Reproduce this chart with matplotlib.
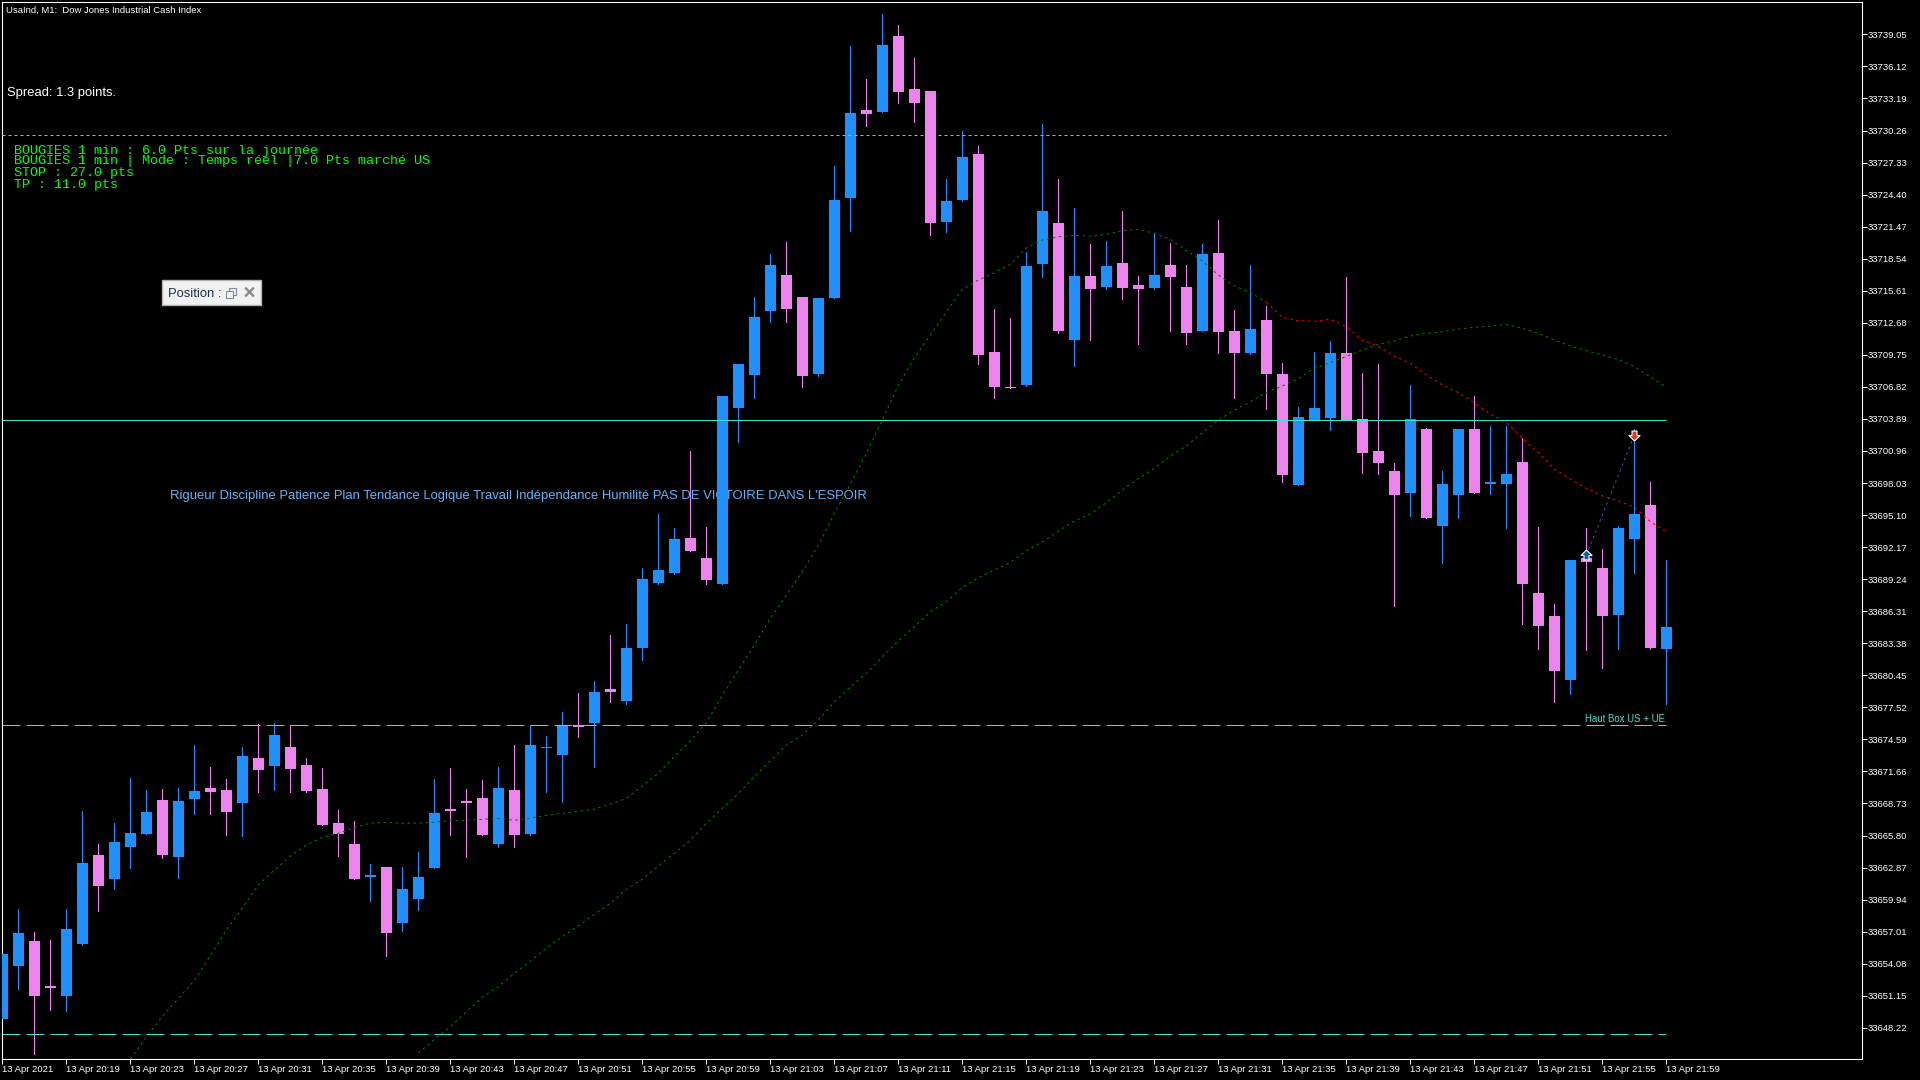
import numpy as np
import matplotlib
matplotlib.use("Agg")
import matplotlib.pyplot as plt
from matplotlib.patches import Rectangle
from matplotlib.lines import Line2D

# candles, one per minute from 20:15
opens = [33649.00, 33653.85, 33656.14, 33652.02, 33651.11, 33655.86, 33664.01, 33661.81, 33664.74, 33665.93,
         33669.04, 33663.82, 33669.13, 33670.14, 33669.95, 33668.77, 33672.88, 33672.15, 33673.89, 33672.24,
         33670.05, 33666.94, 33665.01, 33661.99, 33662.91, 33657.79, 33659.98, 33662.82, 33668.22, 33668.95,
         33669.22, 33665.01, 33669.95, 33665.93, 33673.80, 33673.16, 33675.90, 33676.08, 33679.19, 33678.10,
         33682.94, 33688.89, 33689.80, 33693.00, 33691.17, 33688.80, 33704.89, 33707.90, 33713.75, 33717.04,
         33715.03, 33707.99, 33714.94, 33724.08, 33732.13, 33731.95, 33738.90, 33734.05, 33733.87, 33721.89,
         33723.90, 33728.11, 33710.00, 33706.80, 33706.99, 33718.05, 33721.80, 33711.10, 33716.95, 33715.95,
         33718.14, 33716.13, 33715.86, 33717.96, 33715.95, 33711.92, 33719.06, 33711.92, 33709.92, 33712.93,
         33708.00, 33697.85, 33703.79, 33703.97, 33709.92, 33703.88, 33700.95, 33699.13, 33697.11, 33702.97,
         33694.10, 33696.93, 33702.97, 33697.94, 33697.94, 33699.95, 33687.97, 33685.87, 33680.02, 33691.17,
         33690.26, 33685.96, 33692.91, 33696.02, 33682.85]
highs = [33654.95, 33659.07, 33656.96, 33656.23, 33659.07, 33668.03, 33665.01, 33666.94, 33671.05, 33669.95,
         33670.05, 33670.14, 33674.07, 33672.06, 33670.96, 33673.89, 33675.99, 33676.09, 33675.90, 33672.88,
         33671.97, 33668.12, 33667.12, 33663.18, 33662.91, 33662.91, 33664.28, 33670.96, 33671.97, 33670.05,
         33670.87, 33672.06, 33674.07, 33675.90, 33674.90, 33677.09, 33678.83, 33679.93, 33684.13, 33685.14,
         33690.26, 33695.20, 33693.92, 33700.96, 33694.01, 33705.98, 33708.90, 33715.03, 33718.96, 33720.06,
         33715.03, 33714.94, 33727.01, 33737.98, 33734.97, 33740.91, 33739.90, 33736.89, 33733.87, 33725.82,
         33730.21, 33728.84, 33713.94, 33713.11, 33719.15, 33730.85, 33725.82, 33723.17, 33719.88, 33720.15,
         33722.90, 33716.95, 33720.88, 33719.97, 33717.96, 33719.88, 33722.07, 33713.84, 33717.96, 33714.21,
         33709.00, 33704.98, 33710.01, 33711.01, 33716.87, 33708.09, 33708.91, 33699.86, 33706.99, 33703.06,
         33699.13, 33702.97, 33705.98, 33703.24, 33703.24, 33702.14, 33694.01, 33686.97, 33690.99, 33693.91,
         33691.99, 33694.10, 33702.97, 33698.12, 33690.99]
lows = [33649.00, 33651.75, 33645.83, 33649.82, 33649.73, 33655.77, 33658.88, 33660.90, 33662.82, 33665.93,
        33663.73, 33661.90, 33667.76, 33667.76, 33665.84, 33665.75, 33669.77, 33669.95, 33669.77, 33669.77,
        33666.75, 33663.92, 33661.81, 33659.80, 33654.77, 33657.05, 33658.97, 33662.82, 33665.84, 33663.82,
        33665.84, 33664.74, 33664.74, 33665.84, 33669.77, 33668.86, 33674.80, 33672.06, 33678.01, 33677.82,
        33681.85, 33688.80, 33689.71, 33691.81, 33688.80, 33688.80, 33701.78, 33705.80, 33712.75, 33712.75,
        33706.80, 33707.81, 33714.94, 33721.07, 33730.67, 33731.95, 33732.77, 33731.03, 33720.70, 33720.98,
        33723.81, 33708.91, 33705.80, 33706.71, 33706.89, 33716.86, 33711.74, 33708.72, 33711.10, 33715.76,
        33714.85, 33710.74, 33715.76, 33711.92, 33710.74, 33711.92, 33709.91, 33705.80, 33709.82, 33704.80,
        33698.12, 33697.85, 33703.79, 33702.88, 33703.79, 33698.94, 33698.85, 33686.78, 33695.01, 33694.83,
        33690.71, 33694.83, 33697.11, 33697.02, 33693.91, 33685.14, 33682.85, 33678.00, 33678.73, 33682.76,
        33681.11, 33682.85, 33689.80, 33682.85, 33677.82]
closes = [33654.95, 33656.87, 33651.11, 33651.84, 33657.24, 33663.28, 33661.17, 33665.20, 33666.02, 33667.94,
          33664.01, 33668.95, 33669.86, 33669.77, 33667.94, 33673.07, 33671.78, 33674.99, 33671.88, 33669.86,
          33666.75, 33665.93, 33661.81, 33662.18, 33656.87, 33660.90, 33661.99, 33667.85, 33668.03, 33668.77,
          33665.84, 33670.14, 33665.84, 33674.07, 33673.89, 33675.90, 33675.72, 33678.92, 33678.92, 33682.94,
          33689.25, 33690.08, 33692.91, 33691.81, 33689.16, 33705.98, 33708.90, 33713.20, 33717.96, 33713.94,
          33707.81, 33714.94, 33723.90, 33731.86, 33731.77, 33738.08, 33733.78, 33732.77, 33721.80, 33723.81,
          33727.83, 33709.73, 33706.80, 33706.71, 33717.87, 33722.90, 33711.92, 33716.95, 33715.76, 33717.87,
          33715.86, 33715.76, 33717.04, 33716.86, 33711.74, 33718.96, 33711.83, 33709.91, 33712.11, 33708.00,
          33698.76, 33704.06, 33704.89, 33709.92, 33703.79, 33700.77, 33699.86, 33696.93, 33703.88, 33694.83,
          33697.94, 33702.97, 33697.11, 33698.12, 33698.85, 33688.79, 33684.95, 33680.84, 33690.99, 33690.81,
          33685.87, 33693.91, 33695.19, 33682.94, 33684.86]

# moving averages, first bar given by the *_start values
fast_start = 8
fast_split = 79  # green up to this bar, red after
fast_ma = [33645.37, 33647.38, 33649.27, 33650.92, 33652.56, 33654.81, 33657.16, 33659.20, 33661.27, 33662.65,
           33663.93, 33664.93, 33665.64, 33666.00, 33666.51, 33666.94, 33667.01, 33666.92, 33666.94, 33667.01,
           33667.15, 33667.19, 33667.28, 33667.37, 33667.19, 33667.40, 33667.65, 33667.83, 33668.01, 33668.22,
           33668.68, 33669.20, 33670.33, 33671.49, 33673.01, 33674.47, 33676.11, 33678.65, 33680.93, 33683.22,
           33685.66, 33687.79, 33689.92, 33692.36, 33695.26, 33697.94, 33700.75, 33703.79, 33706.99, 33709.46,
           33711.56, 33713.69, 33715.74, 33716.59, 33717.26, 33718.03, 33719.54, 33720.25, 33720.55, 33720.68,
           33720.61, 33720.77, 33721.10, 33721.23, 33720.86, 33720.31, 33719.27, 33718.33, 33717.05, 33716.04,
           33715.47, 33714.55, 33713.18, 33712.87, 33712.81, 33713.00, 33712.32, 33711.10, 33710.49, 33709.64,
           33708.97, 33707.90, 33706.99, 33706.29, 33705.37, 33704.34, 33703.58, 33702.12, 33700.80, 33699.31,
           33698.40, 33697.54, 33696.84, 33696.41, 33695.81, 33694.49, 33693.58]
slow_start = 26
slow_ma = [33645.91, 33647.17, 33648.32, 33649.69, 33651.01, 33651.98, 33653.20, 33654.33, 33655.49, 33656.55,
           33657.53, 33658.60, 33659.60, 33660.88, 33661.80, 33663.04, 33664.17, 33665.39, 33666.92, 33668.29,
           33669.66, 33671.18, 33672.64, 33674.07, 33674.99, 33676.36, 33678.03, 33679.40, 33680.63, 33682.15,
           33683.61, 33684.89, 33686.26, 33687.18, 33688.49, 33689.37, 33690.07, 33690.78, 33691.84, 33692.66,
           33693.64, 33694.55, 33695.20, 33696.23, 33697.39, 33698.46, 33699.37, 33700.50, 33701.41, 33702.63,
           33703.79, 33704.70, 33705.46, 33706.30, 33706.90, 33707.58, 33708.52, 33709.03, 33709.61, 33710.19,
           33710.71, 33711.01, 33711.47, 33711.72, 33711.86, 33712.11, 33712.27, 33712.38, 33712.54, 33712.17,
           33711.72, 33711.10, 33710.56, 33710.13, 33709.73, 33709.34, 33708.66, 33707.75, 33706.78]

# horizontal levels
level_dotted = 33729.85
level_solid = 33703.76
level_box_high = 33675.87
level_box_low = 33647.62

# trade arrows
trade_bars = [99, 102]
trade_prices = [33691.45, 33702.42]

price_ticks = [33739.05, 33736.12, 33733.19, 33730.26, 33727.33, 33724.40, 33721.47, 33718.54,
               33715.61, 33712.68, 33709.75, 33706.82, 33703.89, 33700.96, 33698.03, 33695.10,
               33692.17, 33689.24, 33686.31, 33683.38, 33680.45, 33677.52, 33674.59, 33671.66,
               33668.73, 33665.80, 33662.87, 33659.94, 33657.01, 33654.08, 33651.15, 33648.22]
time_labels = ["13 Apr 2021", "13 Apr 20:19", "13 Apr 20:23", "13 Apr 20:27", "13 Apr 20:31", "13 Apr 20:35",
               "13 Apr 20:39", "13 Apr 20:43", "13 Apr 20:47", "13 Apr 20:51", "13 Apr 20:55", "13 Apr 20:59",
               "13 Apr 21:03", "13 Apr 21:07", "13 Apr 21:11", "13 Apr 21:15", "13 Apr 21:19", "13 Apr 21:23",
               "13 Apr 21:27", "13 Apr 21:31", "13 Apr 21:35", "13 Apr 21:39", "13 Apr 21:43", "13 Apr 21:47",
               "13 Apr 21:51", "13 Apr 21:55", "13 Apr 21:59"]

BLUE = "#1e90ff"
PINK = "#ee82ee"
TURQ = "#40e0d0"
GREEN = "#008000"
PX = 0.72  # one pixel in points at dpi 100

plt.rcParams["font.family"] = ["Liberation Sans", "DejaVu Sans"]

W, H = 1920, 1080
fig = plt.figure(figsize=(W / 100, H / 100), dpi=100, facecolor="black")
ax = fig.add_axes([2 / W, (H - 1059) / H, 1860 / W, 1057 / H], facecolor="black")


def pos(x, y):
    return x / W, 1 - y / H


opens = np.array(opens)
highs = np.array(highs)
lows = np.array(lows)
closes = np.array(closes)
bars = np.arange(len(opens))
up = closes >= opens

ax.text(*pos(170, 496), "Rigueur Discipline Patience Plan Tendance Logique Travail Indépendance Humilité "
        "PAS DE VICTOIRE DANS L'ESPOIR", transform=fig.transFigure, color="#62b4f8", fontsize=9.36,
        va="center", zorder=1)

ax.vlines(bars[up], lows[up], highs[up], color=BLUE, lw=PX, antialiased=False, zorder=2)
ax.vlines(bars[~up], lows[~up], highs[~up], color=PINK, lw=PX, antialiased=False, zorder=2)
ax.bar(bars[up], (closes - opens)[up], bottom=opens[up], width=0.6875, color=BLUE, linewidth=0,
       antialiased=False, zorder=3)
ax.bar(bars[~up], (opens - closes)[~up], bottom=closes[~up], width=0.6875, color=PINK, linewidth=0,
       antialiased=False, zorder=3)

fast_x = np.arange(fast_start, fast_start + len(fast_ma))
slow_x = np.arange(slow_start, slow_start + len(slow_ma))
cut = fast_split - fast_start + 1
ma_style = (0, (2.5, 3.5))
ax.plot(fast_x[:cut], fast_ma[:cut], color=GREEN, lw=PX, ls=ma_style, zorder=4)
ax.plot(fast_x[cut - 1:], fast_ma[cut - 1:], color="#ff0000", lw=PX, ls=ma_style, zorder=4)
ax.plot(slow_x, slow_ma, color=GREEN, lw=PX, ls=ma_style, zorder=4)

ax.hlines(level_dotted, 0, bars[-1], color=TURQ, lw=PX, ls=(0, (3, 3)), zorder=5)
ax.hlines(level_solid, 0, bars[-1], color=TURQ, lw=PX, zorder=5)
ax.hlines(level_box_high, 0, bars[-1], color=TURQ, lw=PX, ls=(0, (18, 6)), zorder=5)
ax.hlines(level_box_low, 0, bars[-1], color=TURQ, lw=PX, ls=(0, (18, 6)), zorder=5)

ax.plot(trade_bars, trade_prices, color="#1565b0", lw=PX, ls=(0, (2.5, 3.5)), zorder=6)
arrow_up = [(0, 1), (1, 0), (0.45, 0), (0.45, -0.8), (-0.45, -0.8), (-0.45, 0), (-1, 0), (0, 1)]
arrow_down = [(vx, -vy) for vx, vy in arrow_up]
ax.plot(trade_bars[0], trade_prices[0], marker=arrow_up, ms=8, mfc="#0f5fa6", mec="white", mew=0.8, zorder=7)
ax.plot(trade_bars[1], trade_prices[1], marker=arrow_down, ms=8, mfc="#e23b22", mec="white", mew=0.8, zorder=7)

ax.set_xlim(-0.025, 116.225)
ax.set_ylim(33645.37, 33742.01)
for side in ["top", "bottom", "left", "right"]:
    ax.spines[side].set_color("white")
    ax.spines[side].set_linewidth(PX * 1.1)

ax.yaxis.tick_right()
ax.set_yticks(price_ticks)
ax.set_yticklabels(["%.2f" % p for p in price_ticks])
ax.set_xticks(bars[::4])
ax.set_xticklabels(time_labels, ha="left")
ax.tick_params(axis="both", colors="white", labelsize=6.8, length=3.6, width=PX, pad=0.4)

# texts on top of the chart
fig.text(*pos(5.5, 10), "UsaInd, M1:  Dow Jones Industrial Cash Index", color="white", fontsize=6.8, va="center")
fig.text(*pos(7.3, 93), "Spread: 1.3 points.", color="white", fontsize=9.4, va="center")
fig.text(*pos(1665, 719), "Haut Box US + UE", color=TURQ, fontsize=6.9, va="center", ha="right")

mono = ["Liberation Mono", "DejaVu Sans Mono"]
green_lines = ["BOUGIES 1 min : 6.0 Pts sur la journée",
               "BOUGIES 1 min | Mode : Temps réel |7.0 Pts marché US",
               "STOP : 27.0 pts",
               "TP : 11.0 pts"]
for line, y in zip(green_lines, [151, 161, 173, 185]):
    fig.text(*pos(13.5, y), line, color="#00ff00", fontsize=9.6, family=mono, va="center")

# small "Position" dialog
fig.add_artist(Rectangle(pos(162, 305), 99 / W, 25.5 / H, transform=fig.transFigure, fc="#f2f2f2",
                         ec="#b0b0b0", lw=1))
fig.text(*pos(168, 294), "Position :", color="#22304f", fontsize=9.4, va="center")
for rx, ry in [(229, 288), (226, 291)]:
    fig.add_artist(Rectangle(pos(rx, ry + 6.5), 6.5 / W, 6.5 / H, transform=fig.transFigure, fc="#f2f2f2",
                             ec="#7d8ba0", lw=0.8))
for x0, y0, x1, y1 in [(246, 288.5, 253, 295.5), (246, 295.5, 253, 288.5)]:
    fig.add_artist(Line2D([x0 / W, x1 / W], [1 - y0 / H, 1 - y1 / H], transform=fig.transFigure,
                          color="#8a8a8a", lw=1.7))

fig.savefig("out.png", dpi=100, facecolor="black")
